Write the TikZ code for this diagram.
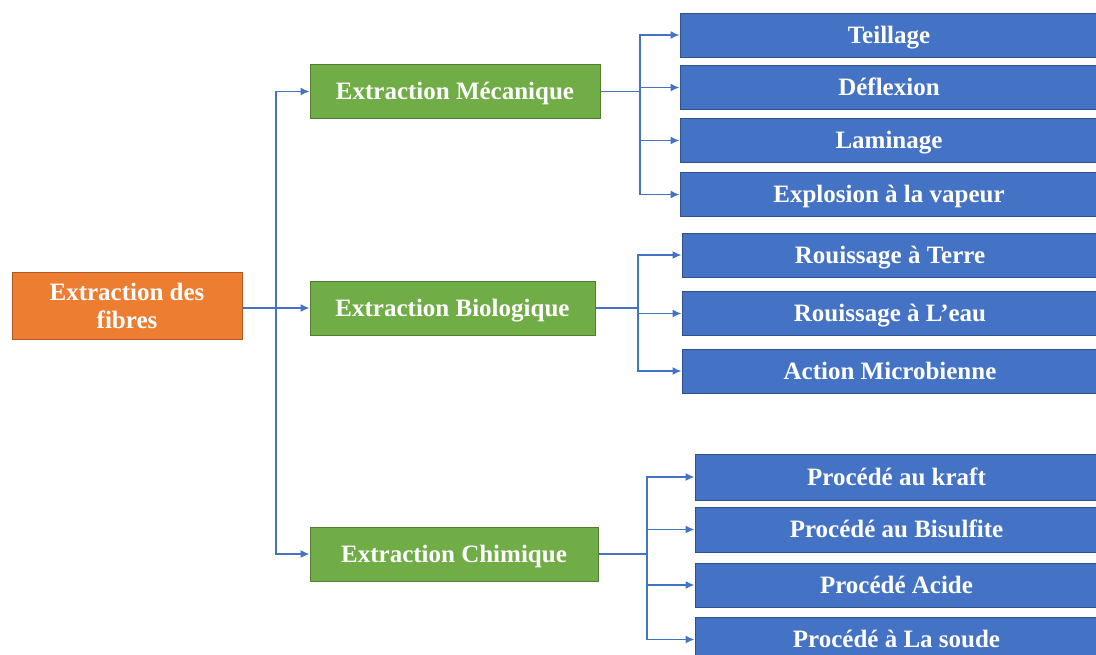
\documentclass[tikz,border=0pt]{standalone}
\usepackage{fontspec}
\setmainfont{Liberation Serif}
\usetikzlibrary{arrows.meta}
\definecolor{rootfill}{HTML}{ED7D31}
\definecolor{rootline}{HTML}{AE5A21}
\definecolor{midfill}{HTML}{70AD47}
\definecolor{midline}{HTML}{507E32}
\definecolor{leaffill}{HTML}{4472C4}
\definecolor{leafline}{HTML}{2F528F}
\definecolor{wire}{HTML}{4472C4}
\tikzset{
  basebox/.style={rectangle, draw, line width=1pt, text=white,
    font=\fontsize{25}{28}\selectfont\bfseries, align=center, inner sep=0pt},
  oneline/.style={text height=17pt, text depth=1pt},
  rootbox/.style={basebox, fill=rootfill, draw=rootline},
  midbox/.style={basebox, oneline, fill=midfill, draw=midline, minimum height=54pt},
  leafbox/.style={basebox, oneline, fill=leaffill, draw=leafline, minimum height=44pt},
  wireline/.style={draw=wire, line width=1.5pt},
  arrowline/.style={wireline, -{Latex[length=9pt,width=8pt]}}
}
\begin{document}
\begin{tikzpicture}[x=1pt,y=-1pt]
  \useasboundingbox (0,0) rectangle (1096,654);
  \clip (0,0) rectangle (1096,654);

  % root
  \node[rootbox, minimum width=230pt, minimum height=67pt] (root) at (127,306)
    {Extraction des\\fibres};

  % second level
  \node[midbox, minimum width=290pt] (mec) at (455,91.5) {Extraction Mécanique};
  \node[midbox, minimum width=285pt] (bio) at (452.5,308) {Extraction Biologique};
  \node[midbox, minimum width=288pt] (chi) at (454,554) {Extraction Chimique};

  % mechanical methods
  \node[leafbox, minimum width=418pt] (teil) at (889,35) {Teillage};
  \node[leafbox, minimum width=418pt] (defl) at (889,87.5) {Déflexion};
  \node[leafbox, minimum width=418pt] (lami) at (889,140.5) {Laminage};
  \node[leafbox, minimum width=418pt] (expl) at (889,194.5) {Explosion à la vapeur};

  % biological methods
  \node[leafbox, minimum width=416pt] (terre) at (890,255) {Rouissage à Terre};
  \node[leafbox, minimum width=416pt] (eau) at (890,313.5) {Rouissage à L’eau};
  \node[leafbox, minimum width=416pt] (micro) at (890,371) {Action Microbienne};

  % chemical methods
  \node[leafbox, minimum width=403pt, minimum height=46pt] (kraft) at (896.5,477) {Procédé au kraft};
  \node[leafbox, minimum width=403pt, minimum height=45pt] (bisul) at (896.5,529.5) {Procédé au Bisulfite};
  \node[leafbox, minimum width=403pt, minimum height=44pt] (acide) at (896.5,585) {Procédé Acide};
  \node[leafbox, minimum width=403pt, minimum height=45pt] (soude) at (896.5,639.5) {Procédé à La soude};

  % branch points
  \coordinate (t0) at (276,308);
  \coordinate (b1) at (640,91.5);
  \coordinate (b2) at (638,308);
  \coordinate (b3) at (647,554);

  % root to second level
  \draw[wireline] (root.east |- t0) -- (t0);
  \draw[arrowline] (t0) |- (mec.west);
  \draw[arrowline] (t0) -- (bio.west);
  \draw[arrowline] (t0) |- (chi.west);

  % mechanical branch
  \draw[wireline] (mec.east) -- (b1);
  \foreach \n in {teil,defl,lami,expl}
    \draw[arrowline] (b1) |- (\n.west);

  % biological branch
  \draw[wireline] (bio.east) -- (b2);
  \foreach \n in {terre,eau,micro}
    \draw[arrowline] (b2) |- (\n.west);

  % chemical branch
  \draw[wireline] (chi.east) -- (b3);
  \foreach \n in {kraft,bisul,acide,soude}
    \draw[arrowline] (b3) |- (\n.west);
\end{tikzpicture}
\end{document}
